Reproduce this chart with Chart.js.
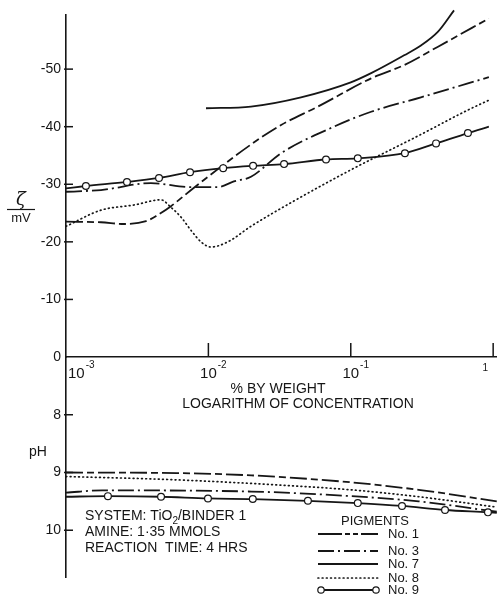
<!DOCTYPE html>
<html>
<head>
<meta charset="utf-8">
<script src="https://cdn.jsdelivr.net/npm/chart.js@4.4.1/dist/chart.umd.min.js"></script>
<style>
  html, body { margin: 0; padding: 0; background: #fff; width: 497px; height: 597px; overflow: hidden; }
  #wrap { position: relative; width: 497px; height: 597px; background: #fff; }
  #c1 { position: absolute; left: 0; top: 0; }
  #c2 { position: absolute; left: 0; top: 340px; }
</style>
</head>
<body>
<div id="wrap">
  <canvas id="c1" width="497" height="420"></canvas>
  <canvas id="c2" width="497" height="257"></canvas>
</div>
<script>
// ---------- DATA ----------
const xTickValues = [0.001, 0.01, 0.1, 1];
const zetaTickValues = [-50, -40, -30, -20, -10, 0];
const phTickValues = [8, 9, 10];
const seriesNames = ['No. 1', 'No. 3', 'No. 7', 'No. 8', 'No. 9'];

// zeta potential (mV) vs % by weight
const no1ZetaX = [0.001, 0.00176, 0.00255, 0.00365, 0.00443, 0.00546, 0.00792, 0.0199, 0.0324, 0.0589, 0.139, 0.237, 0.41, 0.933];
const no1Zeta  = [-23.5, -23.4, -23.1, -23.6, -24.7, -26.2, -29.4, -36.9, -40.3, -43.5, -48.4, -50.7, -53.9, -58.8];

const no3ZetaX = [0.001, 0.00176, 0.00395, 0.00755, 0.0117, 0.0151, 0.0199, 0.0324, 0.0762, 0.139, 0.311, 0.933];
const no3Zeta  = [-28.7, -29.0, -30.2, -29.5, -29.5, -30.5, -31.3, -35.4, -40.0, -42.6, -45.1, -48.6];

const no7ZetaX = [0.00962, 0.0199, 0.0447, 0.1, 0.139, 0.237, 0.311, 0.41, 0.531];
const no7Zeta  = [-43.2, -43.5, -45.1, -47.7, -49.3, -52.4, -54.1, -56.5, -60.2];

const no8ZetaX = [0.001, 0.00176, 0.0030, 0.00465, 0.00546, 0.00642, 0.00755, 0.00887, 0.0104, 0.0137, 0.0199, 0.038, 0.1, 0.297, 0.665, 0.933];
const no8Zeta  = [-22.7, -25.5, -26.4, -27.3, -26.0, -24.3, -22.0, -20.0, -19.1, -20.0, -22.7, -26.8, -32.5, -38.4, -42.9, -44.6];

const no9ZetaX = [0.001, 0.00138, 0.00268, 0.0045, 0.00743, 0.0127, 0.0206, 0.034, 0.067, 0.112, 0.24, 0.397, 0.665, 0.933];
const no9Zeta  = [-29.3, -29.7, -30.4, -31.1, -32.1, -32.8, -33.2, -33.5, -34.3, -34.5, -35.4, -37.1, -38.9, -40.0];

// pH vs % by weight
const no1PhX = [0.001, 0.006, 0.02, 0.1, 0.3, 1.06];
const no1Ph  = [9.00, 9.01, 9.05, 9.17, 9.30, 9.50];

const no3PhX = [0.001, 0.0018, 0.02, 0.1, 0.3, 1.06];
const no3Ph  = [9.35, 9.31, 9.33, 9.41, 9.50, 9.68];

const no8PhX = [0.001, 0.005, 0.02, 0.1, 0.3, 1.06];
const no8Ph  = [9.07, 9.12, 9.19, 9.30, 9.42, 9.60];

const no9PhX = [0.001, 0.00197, 0.00465, 0.00993, 0.0205, 0.05, 0.112, 0.229, 0.459, 0.919, 1.06];
const no9Ph  = [9.42, 9.41, 9.42, 9.45, 9.46, 9.49, 9.53, 9.58, 9.65, 9.69, 9.70];

// ---------- STYLE ----------
const FONT = '"Liberation Sans", Arial, Helvetica, sans-serif';
const INK = '#161616';
const STY = {
  'No. 1': { dash: [17, 4, 7, 4], width: 1.8, cap: 'butt' },
  'No. 3': { dash: [16, 4, 2, 4], width: 1.8, cap: 'butt' },
  'No. 7': { dash: [], width: 1.8, cap: 'butt' },
  'No. 8': { dash: [0.8, 3.4], width: 1.7, cap: 'round' },
  'No. 9': { dash: [], width: 1.8, cap: 'butt', marker: true }
};

function pts(xs, ys) { return xs.map((x, i) => ({ x: x, y: ys[i] })); }

function ds(name, xs, ys) {
  const s = STY[name];
  const d = {
    label: name,
    data: pts(xs, ys),
    borderColor: INK,
    borderWidth: s.width,
    borderDash: s.dash,
    borderCapStyle: s.cap,
    fill: false,
    clip: false,
    cubicInterpolationMode: 'monotone',
    pointRadius: 0,
    pointHoverRadius: 0
  };
  if (s.marker) {
    d.pointRadius = (c) => (c.dataIndex === 0 || c.dataIndex === c.dataset.data.length - 1) ? 0 : 3.4;
    d.pointBackgroundColor = '#fff';
    d.pointBorderColor = INK;
    d.pointBorderWidth = 1.2;
  }
  return d;
}

function innerYTicks(ctx, chart, values) {
  const a = chart.chartArea, y = chart.scales.y;
  ctx.save();
  ctx.strokeStyle = INK; ctx.lineWidth = 1.5; ctx.setLineDash([]);
  values.forEach(v => {
    const py = y.getPixelForValue(v);
    ctx.beginPath(); ctx.moveTo(a.left - 2, py); ctx.lineTo(a.left + 7, py); ctx.stroke();
  });
  ctx.restore();
}

function drawSample(ctx, name, x0, x1, yy) {
  const s = STY[name];
  ctx.save();
  ctx.strokeStyle = INK; ctx.lineWidth = s.width; ctx.lineCap = s.cap;
  ctx.setLineDash(name === 'No. 1' ? [24, 3, 5, 3, 5, 3] : s.dash);
  ctx.beginPath(); ctx.moveTo(x0, yy); ctx.lineTo(x1, yy); ctx.stroke();
  if (s.marker) {
    ctx.setLineDash([]); ctx.lineWidth = 1.2; ctx.fillStyle = '#fff';
    [x0 + 3, x1 - 2].forEach(cx => {
      ctx.beginPath(); ctx.arc(cx, yy, 3.2, 0, Math.PI * 2); ctx.fill(); ctx.stroke();
    });
  }
  ctx.restore();
}

// ---------- TOP CHART : zeta potential ----------
const topDeco = {
  id: 'topDeco',
  afterDraw(chart) {
    const ctx = chart.ctx, a = chart.chartArea, x = chart.scales.x;
    innerYTicks(ctx, chart, zetaTickValues.filter(v => v !== 0));
    ctx.save();
    ctx.strokeStyle = INK; ctx.lineWidth = 1.5;
    xTickValues.slice(1).forEach(v => {
      const px = Math.min(x.getPixelForValue(v), a.right - 3);
      ctx.beginPath(); ctx.moveTo(px, a.bottom); ctx.lineTo(px, a.bottom - 14); ctx.stroke();
    });
    // x tick labels with superscript exponents
    ctx.fillStyle = INK; ctx.textBaseline = 'alphabetic'; ctx.textAlign = 'left';
    xTickValues.forEach((v, i) => {
      const px = x.getPixelForValue(v);
      const e = Math.round(Math.log10(v));
      if (e === 0) {
        ctx.font = '10px ' + FONT; ctx.textAlign = 'center';
        ctx.fillText('1', px - 8, a.bottom + 14);
        ctx.textAlign = 'left';
        return;
      }
      ctx.font = '15px ' + FONT;
      const w = ctx.measureText('10').width;
      const left = i === 0 ? px + 2 : px - w / 2;
      ctx.fillText('10', left, a.bottom + 21);
      ctx.font = '10px ' + FONT;
      ctx.fillText('-' + (-e), left + w + 1, a.bottom + 11);
    });
    // x axis titles
    ctx.font = '14px ' + FONT; ctx.textAlign = 'center';
    ctx.fillText('% BY WEIGHT', a.left + 212, a.bottom + 36);
    ctx.fillText('LOGARITHM OF CONCENTRATION', a.left + 232, a.bottom + 51);
    // y title  zeta / mV
    ctx.font = 'italic 18px "DejaVu Serif", "Liberation Serif", serif';
    ctx.fillText('\u03B6', 21, 205);
    ctx.strokeStyle = INK; ctx.lineWidth = 1.2;
    ctx.beginPath(); ctx.moveTo(7, 209.5); ctx.lineTo(35, 209.5); ctx.stroke();
    ctx.font = '13px ' + FONT;
    ctx.fillText('mV', 21, 222);
    ctx.restore();
  }
};

new Chart(document.getElementById('c1'), {
  type: 'line',
  data: {
    datasets: [
      ds('No. 9', no9ZetaX, no9Zeta),
      ds('No. 1', no1ZetaX, no1Zeta),
      ds('No. 3', no3ZetaX, no3Zeta),
      ds('No. 7', no7ZetaX, no7Zeta),
      ds('No. 8', no8ZetaX, no8Zeta)
    ]
  },
  options: {
    responsive: false,
    animation: false,
    events: [],
    layout: { padding: { top: 15, right: 0, left: 0, bottom: 0 } },
    plugins: { legend: { display: false }, tooltip: { enabled: false } },
    scales: {
      x: {
        type: 'logarithmic', min: 0.001, max: 1.064,
        afterBuildTicks: s => { s.ticks = xTickValues.map(v => ({ value: v })); },
        ticks: { display: false },
        grid: { display: false, drawTicks: false },
        border: { display: true, color: INK, width: 1.6 },
        afterFit: s => { s.height = 63; }
      },
      y: {
        type: 'linear', reverse: true, min: -59.4, max: 0,
        afterBuildTicks: s => { s.ticks = zetaTickValues.map(v => ({ value: v })); },
        ticks: { font: { family: FONT, size: 14 }, color: INK, padding: 5 },
        grid: { display: false, drawTicks: false },
        border: { display: true, color: INK, width: 1.6 },
        afterFit: s => { s.width = 66; }
      }
    }
  },
  plugins: [topDeco]
});

// ---------- BOTTOM CHART : pH ----------
const bottomDeco = {
  id: 'bottomDeco',
  afterDraw(chart) {
    const ctx = chart.ctx;
    innerYTicks(ctx, chart, phTickValues);
    ctx.save();
    ctx.fillStyle = INK; ctx.textBaseline = 'alphabetic';
    ctx.font = '14px ' + FONT; ctx.textAlign = 'center';
    ctx.fillText('pH', 38, 116);
    // system annotation
    ctx.textAlign = 'left';
    let xx = 85;
    ctx.fillText('SYSTEM: TiO', xx, 180);
    xx += ctx.measureText('SYSTEM: TiO').width;
    ctx.font = '10px ' + FONT;
    ctx.fillText('2', xx, 184);
    xx += ctx.measureText('2').width;
    ctx.font = '14px ' + FONT;
    ctx.fillText('/BINDER 1', xx, 180);
    ctx.fillText('AMINE: 1\u00B735 MMOLS', 85, 196);
    ctx.fillText('REACTION  TIME: 4 HRS', 85, 212);
    // legend
    ctx.font = '13px ' + FONT; ctx.textAlign = 'center';
    ctx.fillText('PIGMENTS', 375, 185);
    const rows = [198, 215, 228, 242, 254];
    seriesNames.forEach((n, i) => {
      drawSample(ctx, n, 318, 378, rows[i] - 4);
      ctx.fillStyle = INK; ctx.textAlign = 'left'; ctx.font = '13px ' + FONT;
      ctx.fillText(n, 388, rows[i]);
    });
    ctx.restore();
  }
};

new Chart(document.getElementById('c2'), {
  type: 'line',
  data: {
    datasets: [
      ds('No. 9', no9PhX, no9Ph),
      ds('No. 1', no1PhX, no1Ph),
      ds('No. 3', no3PhX, no3Ph),
      ds('No. 8', no8PhX, no8Ph)
    ]
  },
  options: {
    responsive: false,
    animation: false,
    events: [],
    layout: { padding: { top: 17, right: 0, left: 0, bottom: 20 } },
    plugins: { legend: { display: false }, tooltip: { enabled: false } },
    scales: {
      x: { type: 'logarithmic', min: 0.001, max: 1.064, display: false },
      y: {
        type: 'linear', reverse: true, min: 7, max: 10.81,
        afterBuildTicks: s => { s.ticks = phTickValues.map(v => ({ value: v })); },
        ticks: { font: { family: FONT, size: 14 }, color: INK, padding: 5 },
        grid: { display: false, drawTicks: false },
        border: { display: true, color: INK, width: 1.6 },
        afterFit: s => { s.width = 66; }
      }
    }
  },
  plugins: [bottomDeco]
});
</script>
</body>
</html>
